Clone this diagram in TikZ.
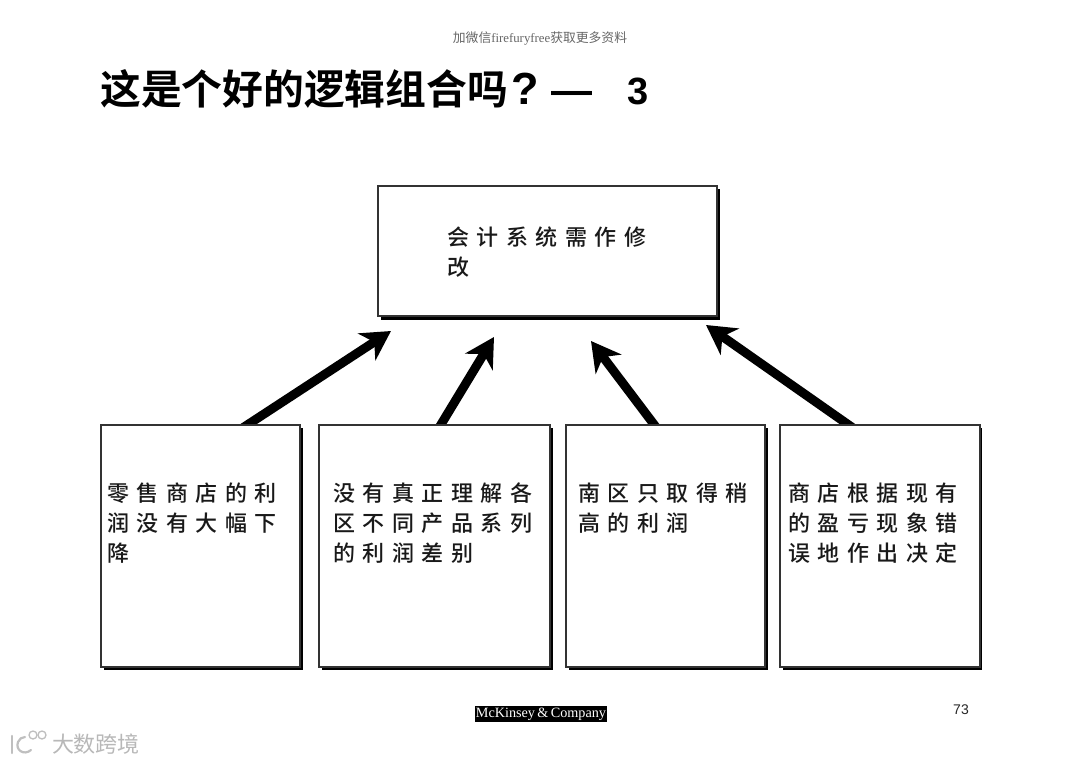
\documentclass[tikz,border=0pt]{standalone}
\usepackage{fontspec}
\setmainfont{Liberation Sans}
\newfontfamily\serifl{Liberation Serif}
\newfontfamily\cjk{Noto Sans CJK SC}
\newfontfamily\cjkwide[LetterSpace=34]{Noto Sans CJK SC Medium}
\newfontfamily\cjkbold{Noto Sans CJK SC Bold}
\newfontfamily\latinbold{Liberation Sans Bold}
\usetikzlibrary{arrows.meta,calc,backgrounds}
\tikzset{
  card/.style={draw=black!80,fill=white,line width=1.1pt},
  cardshadow/.style={fill=black},
  bodytext/.style={inner sep=0pt,align=left,anchor=north west,font=\cjkwide\fontsize{22}{30}\selectfont,text=black!90},
  thickarrow/.style={line width=9pt,black,shorten <=-6pt,-{Stealth[length=29pt,width=32pt,inset=9pt]}},
}
\begin{document}
\begin{tikzpicture}[x=1pt,y=-1pt]
\useasboundingbox (0,0) rectangle (1080,764);
% header and title
\node[inner sep=0pt,text=black!60] (hdr) at (540,38) {\fontsize{12.8}{13}\selectfont\cjk 加微信{\serifl firefuryfree}获取更多资料};
\node[inner sep=0pt,anchor=west] (title) at (100,89) {\fontsize{40.8}{41}\selectfont\cjkbold 这是个好的逻辑组合吗\hspace{3pt}{\latinbold\fontsize{45}{45}\selectfont ?\hspace{13pt}{\fontsize{41}{41}\selectfont —}\hspace{35pt}\fontsize{38}{38}\selectfont 3}};
% shadows
\fill[cardshadow] (381,189) rectangle (720,319.5);
\fill[cardshadow] (104,428) rectangle (302.5,669.5);
\fill[cardshadow] (322,428) rectangle (552.5,669.5);
\fill[cardshadow] (569,428) rectangle (767.5,669.5);
\fill[cardshadow] (783,428) rectangle (982,669.5);
% boxes
\node[card,minimum width=339pt,minimum height=130pt,inner sep=0pt] (top) at (547.5,251) {};
\node[card,minimum width=199pt,minimum height=242pt,inner sep=0pt] (b1) at (200.5,546) {};
\node[card,minimum width=231pt,minimum height=242pt,inner sep=0pt] (b2) at (434.5,546) {};
\node[card,minimum width=199pt,minimum height=242pt,inner sep=0pt] (b3) at (665.5,546) {};
\node[card,minimum width=200pt,minimum height=242pt,inner sep=0pt] (b4) at (880,546) {};
% text
\node[bodytext] (t0) at (447,227) {会计系统需作修\\改};
\node[bodytext] (t1) at (107,483) {零售商店的利\\润没有大幅下\\降};
\node[bodytext] (t2) at (333,483) {没有真正理解各\\区不同产品系列\\的利润差别};
\node[bodytext] (t3) at (578,483) {南区只取得稍\\高的利润};
\node[bodytext] (t4) at (788,483) {商店根据现有\\的盈亏现象错\\误地作出决定};
% arrows
\coordinate (a1) at (391,331);
\coordinate (a2) at (494,337);
\coordinate (a3) at (591,341);
\coordinate (a4) at (706,325);
\begin{scope}[on background layer]
\fill[white] (0,0) rectangle (1080,764);
\draw[thickarrow] (b1.north -| 248,0) -- (a1);
\draw[thickarrow] (b2.north -| 441,0) -- (a2);
\draw[thickarrow] (b3.north -| 654,0) -- (a3);
\draw[thickarrow] (b4.north -| 848,0) -- (a4);
\end{scope}
% footer
\node[fill=black,text=white,inner sep=0pt,minimum width=132pt,minimum height=15.5pt] (mck) at (541,714) {\fontsize{14.2}{15}\selectfont\serifl McKinsey\,\&\,Company};
\node[inner sep=0pt,text=black!85] (pg) at (961,709.5) {\fontsize{14}{14}\selectfont 73};
% watermark
\node[inner sep=0pt,text=black!28] (wm) at (96,744) {\fontsize{22}{22}\selectfont\cjk 大数跨境};
\draw[black!25,line width=2.2pt,line cap=round] (12,736) -- (12,753);
\draw[black!25,line width=2.2pt,line cap=round] (31,750) .. controls (24,756) and (15,750) .. (18,742) .. controls (19,739) and (22,737) .. (25,737);
\draw[black!25,line width=1.3pt] (33,735) circle[radius=4pt];
\draw[black!25,line width=1.3pt] (42,735) circle[radius=4pt];
\end{tikzpicture}
\end{document}
